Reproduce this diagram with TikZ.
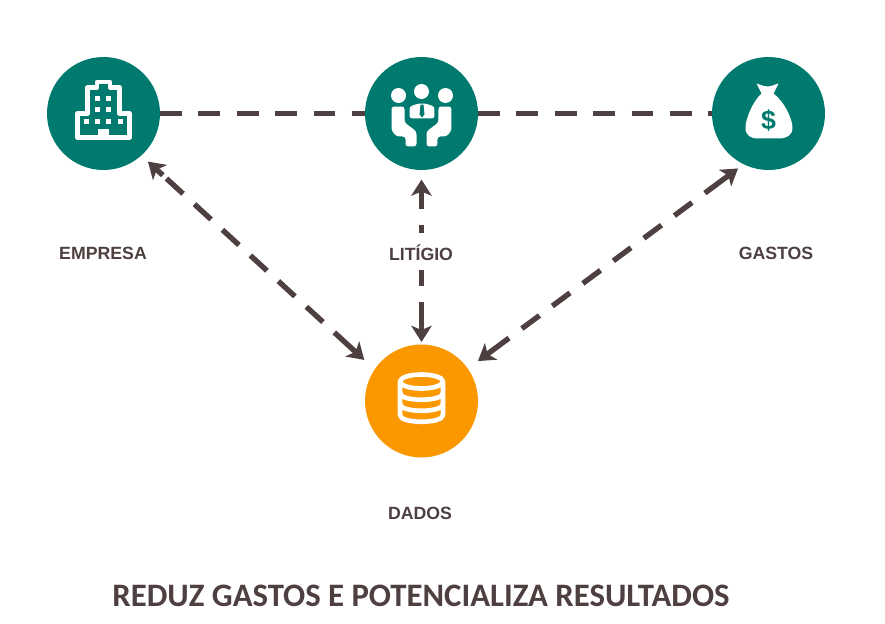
\documentclass[tikz,border=0pt]{standalone}
\usepackage{fontspec}
\usepackage{xcolor}
\usepackage{tikz}
\usetikzlibrary{arrows.meta, positioning}
\newfontfamily\labelfont{Liberation Sans}
\newfontfamily\titlefont{Carlito}
\definecolor{tealc}{HTML}{007A6E}
\definecolor{orangec}{HTML}{FB9800}
\definecolor{darkc}{HTML}{4E3F40}

\begin{document}
\begin{tikzpicture}[
  disc/.style={circle, minimum size=2.825cm, inner sep=0pt, outer sep=0pt, fill=tealc},
  lbl/.style={font=\labelfont\bfseries\fontsize{12.6}{14}\selectfont, text=darkc, inner sep=1pt},
  link/.style={line width=3.8pt, darkc, dash pattern=on 15.5pt off 11.8pt},
  both/.style={link, {Stealth[length=11.5pt, width=14.5pt, inset=3pt]}-{Stealth[length=11.5pt, width=14.5pt, inset=3pt]}},
  iconline/.style={white, line width=3.3pt, line join=round},
  icon/.style={shift={#1}, x=0.025cm, y=-0.025cm}
]
\useasboundingbox (0, 0) rectangle (22.125, 15.575);

\node[disc] (emp) at (2.5875, 12.7375) {};
\node[disc] (lit) at (10.5375, 12.7375) {};
\node[disc] (gas) at (19.2125, 12.7375) {};
\node[disc, fill=orangec] (dat) at (10.5375, 5.55) {};

\draw[link] (emp) -- (lit);
\draw[link] (lit) -- (gas);
\draw[both, shorten <=6.4pt, shorten >=10pt,
  dash pattern=on 6.5pt off 3.5pt on 16pt off 11pt on 16pt off 11pt on 16pt off 11pt on 16pt off 11pt on 16pt off 11pt on 16pt off 11pt on 40pt] (emp.312.5) -- (dat.146);
\draw[both, shorten <=5pt, shorten >=9pt,
  dash pattern=on 21.5pt off 11.4pt on 15.6pt off 11.4pt on 15.6pt off 11.4pt on 15.6pt off 11.4pt on 15.6pt off 11.4pt on 15.6pt off 11.4pt on 15.6pt off 11.4pt on 40pt] (gas.244.4) -- (dat.35.3);
\draw[both, shorten <=6.8pt, shorten >=1.8pt,
  dash pattern=on 12.8pt off 11.4pt on 5.7pt off 26.3pt on 11.4pt off 11.4pt on 40pt] (lit.south) -- (dat.north);

\node[lbl] (emplbl) at (2.575, 9.25) {EMPRESA};
\node[lbl, fill=white] (litlbl) at (10.525, 9.25) {LITÍGIO};
\node[lbl] (gaslbl) at (19.4, 9.25) {GASTOS};
\node[lbl] (datlbl) at (10.5, 2.73) {DADOS};
\node[font=\titlefont\bfseries\fontsize{23.3}{26}\selectfont, text=darkc, inner sep=0pt] (title) at (10.525, 0.675) {REDUZ GASTOS E POTENCIALIZA RESULTADOS};

% building
\begin{scope}[icon={(emp)}]
  \draw[iconline] (-26,0) -- (-16,0) -- (-16,-26) -- (-6.5,-26) -- (-6.5,-31.5) -- (6.5,-31.5) -- (6.5,-26) -- (16,-26) -- (16,0) -- (26,0) -- (26,24) -- (-26,24) -- cycle;
  \foreach \wx/\wy in {-6/-15, 5/-15, -6/-4, 5/-4, -17/8, -6/8, 5/8, 17/8}
    \fill[white] (\wx-2.5,\wy-2.5) rectangle (\wx+2.5,\wy+2.5);
  \fill[white] (-6,16) rectangle (6,26);
\end{scope}

% people at the table
\begin{scope}[icon={(lit)}]
  \fill[white] (-23,-18) circle (7.5);
  \fill[white] (0,-22) circle (7.5);
  \fill[white] (24,-18) circle (7.5);
  \fill[white, rounded corners=2pt] (-12,5) -- (-12,-7) -- (-3,-10) -- (4,-10) -- (13,-7) -- (13,5) -- cycle;
  \fill[tealc] (-1,-9) -- (2,-9) -- (3,1) -- (0.5,4) -- (-2,1) -- cycle;
  \foreach \sx in {1,-1}
    \fill[white, rounded corners=2pt, xscale=\sx] (-30,-7) -- (-17,-7) -- (-17,9) -- (-5,18) -- (-5,33) -- (-16,33) -- (-16,23) -- (-25,23) -- (-30,17) -- cycle;
\end{scope}

% money bag
\begin{scope}[icon={(gas)}]
  \fill[white] (-7,-20) -- (-12,-30) .. controls (-6,-28) and (-4,-27) .. (-1,-27) .. controls (3,-27) and (6,-29) .. (10,-30) -- (5,-20)
    .. controls (16,-12) and (24,6) .. (24,14) .. controls (24,22) and (18,25) .. (10,25) -- (-10,25) .. controls (-18,25) and (-23,22) .. (-23,14) .. controls (-23,6) and (-16,-12) .. (-7,-20) -- cycle;
  \node[font=\labelfont\bfseries\fontsize{19}{20}\selectfont, text=tealc, inner sep=0pt] (dollar) at (0,7) {\$};
\end{scope}

% database
\begin{scope}[icon={(dat)}]
  \draw[iconline] (0,-19.5) ellipse (21.5 and 7);
  \draw[iconline] (-21.5,-19.5) -- (-21.5,14) .. controls (-21.5,23) and (21.5,23) .. (21.5,14) -- (21.5,-19.5);
  \draw[iconline] (-21.5,-8) .. controls (-21.5,1) and (21.5,1) .. (21.5,-8);
  \draw[iconline] (-21.5,3) .. controls (-21.5,12) and (21.5,12) .. (21.5,3);
\end{scope}
\end{tikzpicture}
\end{document}
